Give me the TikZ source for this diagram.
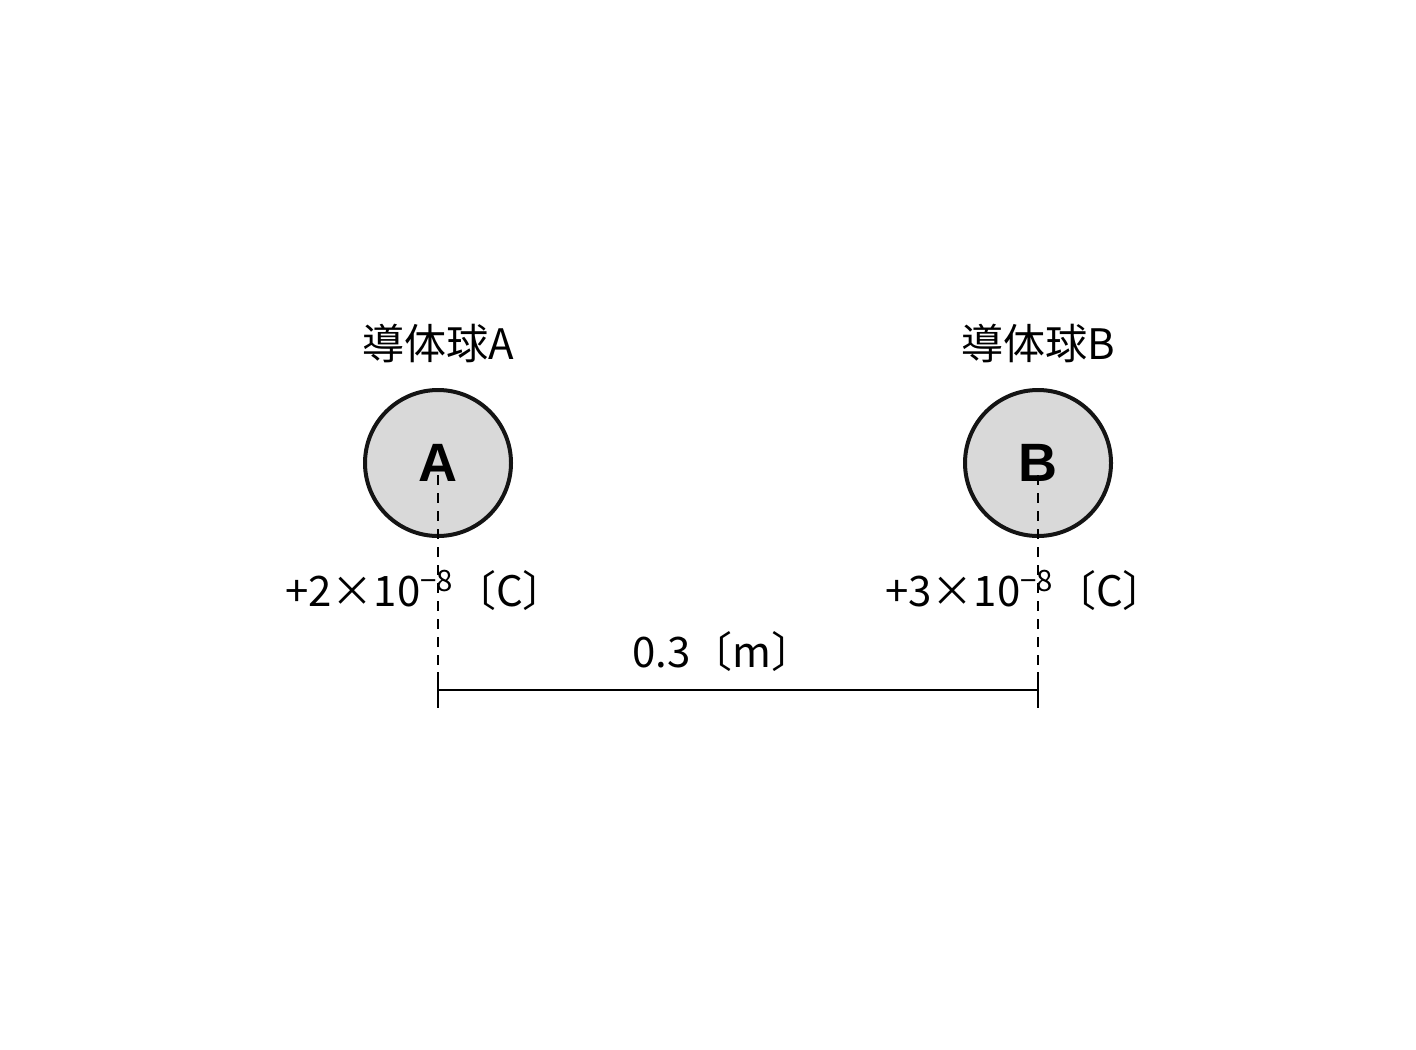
\documentclass[tikz,border=0pt]{standalone}
\usepackage{fontspec}
\newfontfamily\cjk{Noto Sans CJK JP}
\newfontfamily\ballfont{Liberation Sans}
\usetikzlibrary{positioning,calc}
\begin{document}
\begin{tikzpicture}[x=0.5pt,y=-0.5pt,
  ball/.style={circle,draw=black!92,line width=2pt,fill=black!15,minimum size=73pt,inner sep=0pt,font=\ballfont\fontsize{27}{27}\selectfont\bfseries},
  lbl/.style={font=\cjk\fontsize{21}{24}\selectfont,inner sep=0pt},
  guide/.style={dashed,line width=1pt,dash pattern=on 5pt off 4pt}]
\useasboundingbox (0,0) rectangle (1416,1049);
\node [ball] (a) at (438,463) {A};
\node [ball] (b) at (1038,463) {B};
\node [lbl] (na) at (438,343) {導体球A};
\node [lbl] (nb) at (1038,343) {導体球B};
\node [lbl] (qa) at (425,590) {+2×10\textsuperscript{−8}〔C〕};
\node [lbl] (qb) at (1025,590) {+3×10\textsuperscript{−8}〔C〕};
\node [lbl] (d) at (723,652) {0.3〔m〕};
\coordinate (ta) at (438,672);
\coordinate (tb) at (1038,672);
\draw [guide] ($(a.center)+(0,12)$) -- (ta);
\draw [guide] ($(b.center)+(0,12)$) -- (tb);
\draw [line width=1.2pt] (ta) -- ++(0,36);
\draw [line width=1.2pt] (tb) -- ++(0,36);
\draw [line width=1.2pt] ($(ta)+(0,18)$) -- ($(tb)+(0,18)$);
\end{tikzpicture}
\end{document}
